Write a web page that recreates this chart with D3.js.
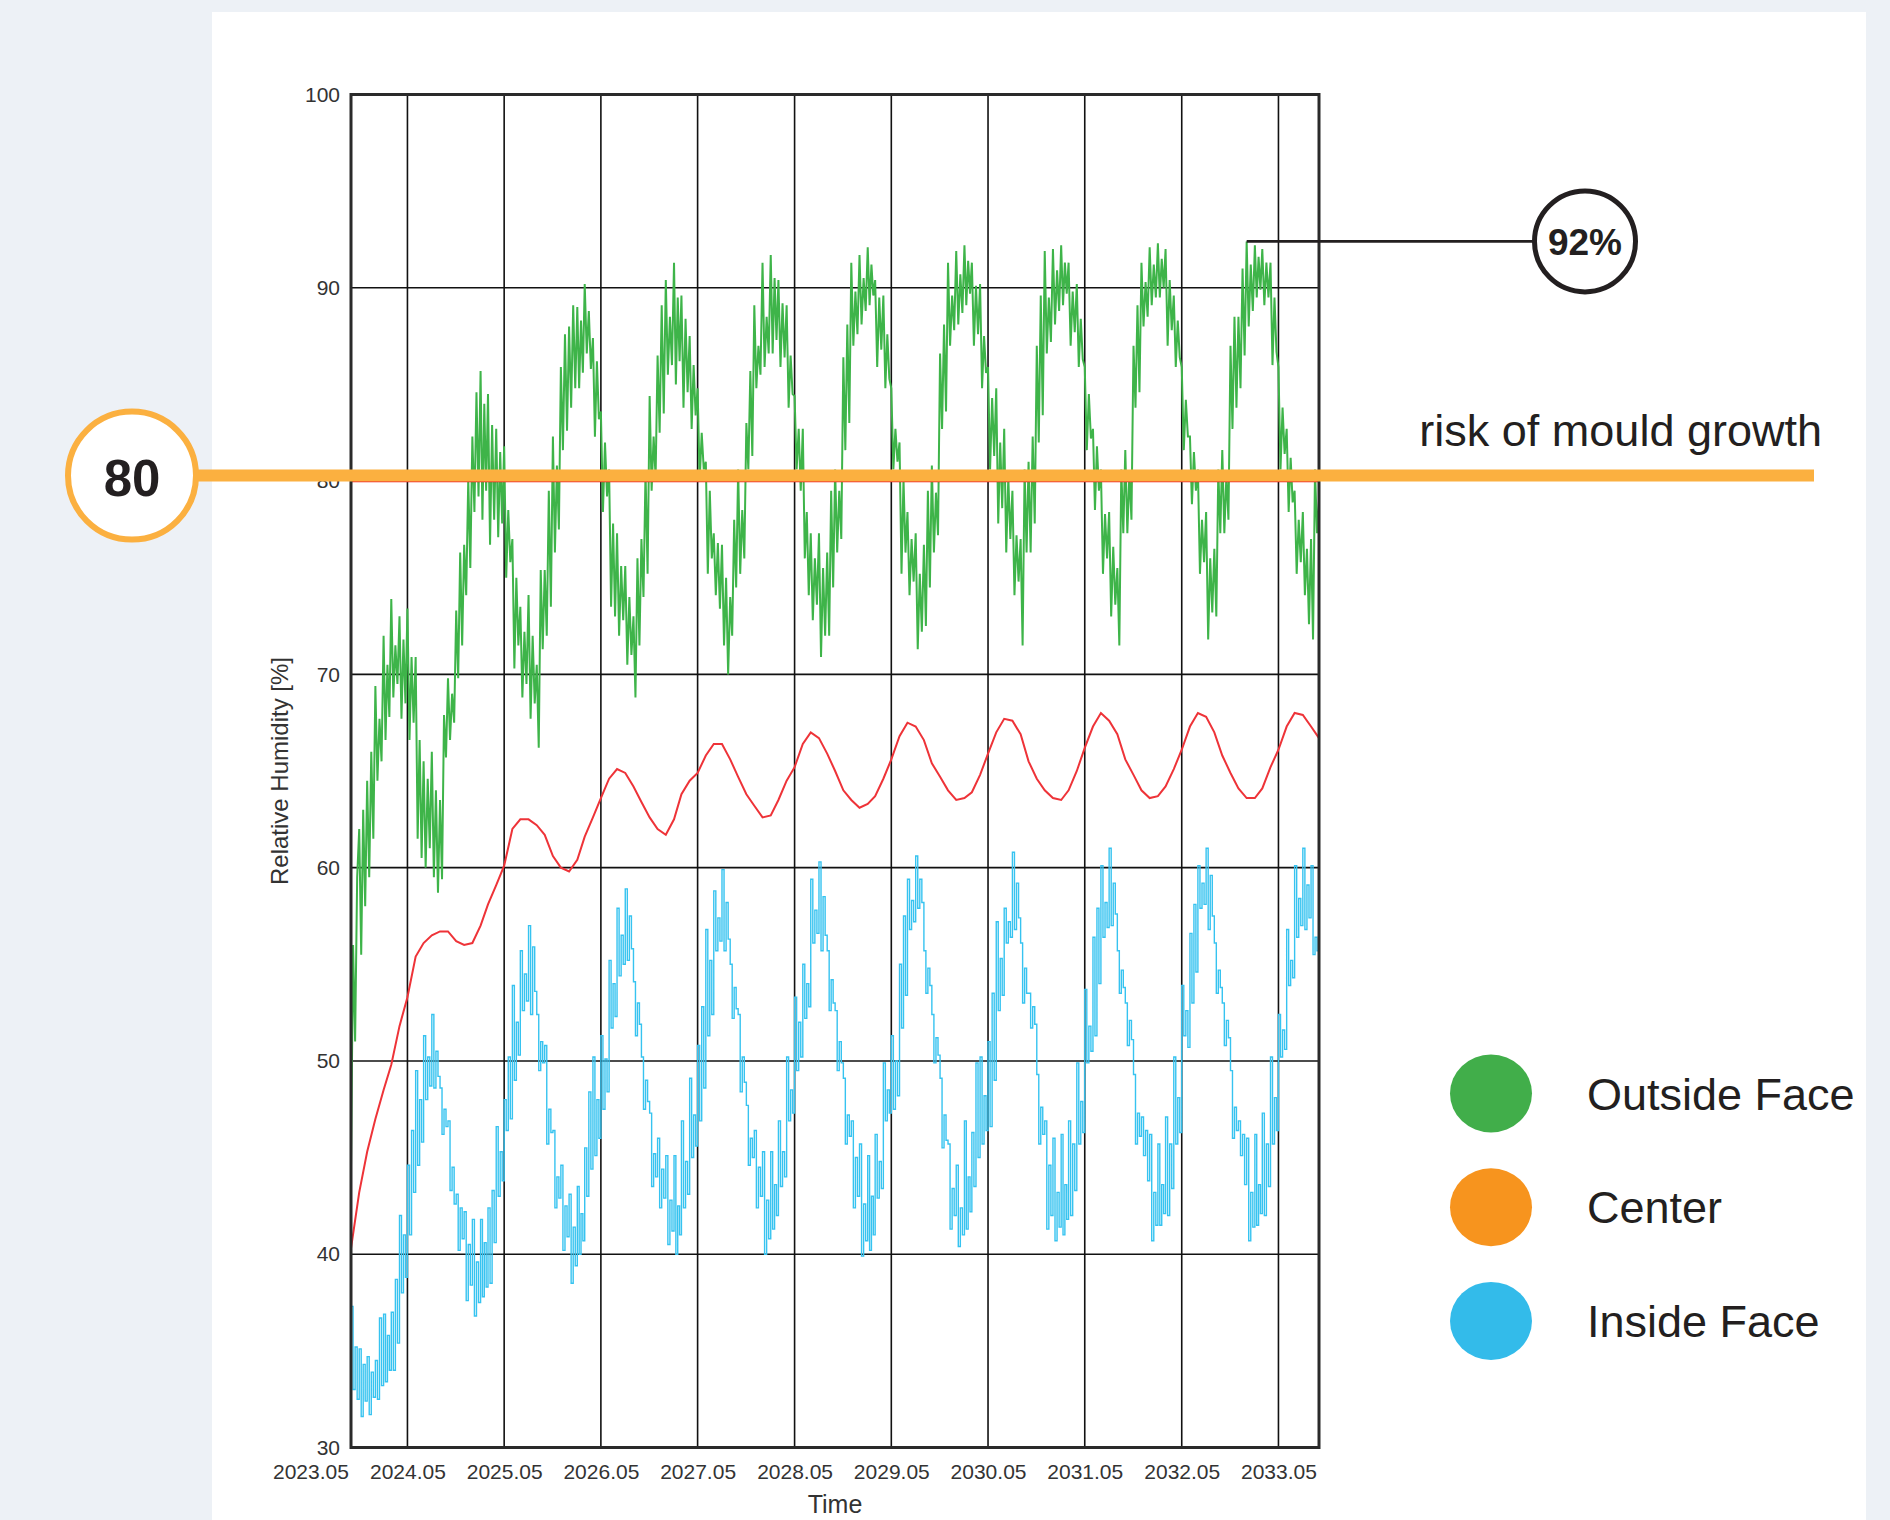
<!DOCTYPE html>
<html>
<head>
<meta charset="utf-8">
<script src="https://cdn.jsdelivr.net/npm/d3@7"></script>
<style>
  html, body { margin: 0; padding: 0; background: #edf1f6; }
  svg { display: block; }
  text { font-family: "Liberation Sans", Arial, Helvetica, sans-serif; }
</style>
</head>
<body>
<svg id="chart" width="1890" height="1520"></svg>
<script>
// ---- Data -------------------------------------------------------------
// Simulation period: 1 Oct 2023 to 1 Oct 2033.
const seriesStart = "2023-10-01";
const seriesEnd = "2033-10-01";

// Time axis labels (year.month) and relative humidity ticks [%]
const timeTickLabels = ["2023.05", "2024.05", "2025.05", "2026.05", "2027.05", "2028.05",
                        "2029.05", "2030.05", "2031.05", "2032.05", "2033.05"];
const humidityTicks = [30, 40, 50, 60, 70, 80, 90, 100];

// Critical relative humidity for mould growth [%]
const mouldThreshold = 80;

// Outside face RH [%], four readings per month (alternating highs and lows), three months per line
const outsideFace = [
  44.5, 56, 51, 59.5, 62, 55.5, 63, 58, 64.5, 59.5, 66, 61.5,
  69.4, 64.5, 67.7, 65.5, 72, 66.6, 70.5, 67.8, 73.9, 68.8, 71.5, 69.5,
  73, 67.7, 71.8, 68.5, 73.4, 66.6, 70.9, 67.5, 70.9, 61.5, 66.6, 60.5,
  65.5, 60, 64.6, 61, 66, 59.5, 64, 58.7, 63.5, 59.4, 67.9, 65.7,
  69.8, 66.6, 69, 67.5, 73.3, 69.8, 76.3, 71.5, 76.7, 74.1, 80.1, 75.5,
  82.3, 78.4, 84.6, 79.2, 85.7, 78, 84, 79.5, 84.5, 76.7, 82.9, 78,
  82.7, 77.1, 81.5, 77.8, 81.8, 75, 78.5, 75.8, 77, 70.3, 75, 71.5,
  73.5, 68.8, 72.2, 69.5, 74.1, 67.7, 72, 68.5, 70.5, 66.2, 75.4, 71.3,
  75.4, 72, 79.5, 73.5, 82.3, 76.3, 80.8, 77.5, 85.9, 81.6, 87.6, 82.6,
  88, 83.8, 89.1, 84.8, 89, 84.8, 88.3, 85.6, 90.2, 86.6, 88.8, 85.8,
  87.4, 82.3, 86.2, 83.2, 83.6, 78.4, 82, 79.2, 80.6, 73.5, 77.8, 73,
  77.3, 72, 75.6, 72.8, 75.6, 70.5, 74, 71, 73, 68.8, 76, 71.5,
  77, 74, 80.5, 75.2, 84.4, 79.5, 82.3, 80.2, 86.5, 82.5, 89.1, 83.5,
  90.4, 85.5, 88.5, 86, 91.3, 85, 89.5, 86.2, 89.6, 83.8, 88.4, 84.6,
  87.5, 82.7, 86, 83.4, 84.8, 80, 82.5, 80.6, 81, 75.2, 79.5, 76,
  77.3, 74.1, 76.8, 73.4, 76.7, 71.5, 75, 70, 74, 72, 78, 74.5,
  80.6, 75.2, 78.5, 76, 83, 80.6, 85.7, 81.3, 89.1, 84.8, 87, 85.5,
  91.3, 85.9, 88.5, 86.6, 91.7, 86.6, 90.5, 87.3, 90.4, 85.9, 89.2, 86.4,
  89.1, 83.8, 86.5, 84.5, 84.4, 80.6, 82.7, 79.5, 82.7, 76, 78.4, 74.1,
  77.3, 72.8, 76, 73.6, 77.3, 70.9, 75.5, 72, 76.3, 72, 79.5, 74.5,
  80.6, 76.3, 79.5, 77, 86.4, 81.6, 88.1, 83, 91.3, 87, 89.8, 87.6,
  91.7, 88.1, 90.5, 88.8, 92.1, 89.1, 91.2, 89.6, 90.4, 85.9, 89.5, 86.8,
  89.6, 84.8, 87.6, 85.3, 84.8, 80.6, 82.7, 81, 82, 75.2, 80.1, 76.3,
  78.4, 74.1, 77, 74.8, 77.3, 71.3, 75.2, 72.2, 76.7, 72.5, 79.5, 74.5,
  80.8, 76.3, 79.4, 77.2, 86.6, 82.7, 88.1, 83.6, 91.3, 87, 89.6, 87.8,
  91.9, 88.1, 90.7, 88.7, 92.2, 89.1, 91.4, 89.7, 91.3, 87, 90.1, 87.6,
  90.2, 84.8, 87.5, 85.6, 85.9, 80.6, 84.3, 81.3, 84.8, 77.8, 82, 78.6,
  82.7, 76.3, 80.2, 77, 79.5, 74.1, 77.2, 74.8, 77, 71.5, 80.6, 76.3,
  81, 76.3, 82.3, 77.8, 87, 82, 89.6, 83.4, 91.9, 86.6, 89.5, 87.2,
  92, 88.1, 90.9, 88.8, 92.2, 89.1, 91.3, 89.7, 91.3, 87, 89.8, 87.7,
  90.2, 85.9, 88.4, 86.3, 85.9, 81.6, 84.5, 82.2, 82.7, 78.5, 81.8, 79.5,
  80.6, 75.2, 78.3, 76, 78.4, 73, 76.6, 73.6, 75.5, 71.5, 80.6, 77.3,
  81.6, 77.3, 80.4, 78, 87, 83.8, 89.1, 84.6, 91.3, 88, 90.3, 88.5,
  92.1, 89.1, 91.2, 89.5, 92.3, 89.5, 91.5, 90, 92, 87, 90.4, 87.8,
  89.6, 85.9, 88.3, 86.4, 85.9, 81.6, 84.2, 82.3, 82.3, 78.8, 81.5, 79.5,
  80.6, 75.2, 78, 75.8, 78.4, 71.8, 76, 73.2, 76.5, 73, 80.6, 77.3,
  81.6, 77.3, 80.3, 78, 87, 82.7, 88.5, 83.8, 88.5, 84.8, 91, 86.5,
  92.4, 88, 91.2, 88.8, 92.2, 89.5, 91.6, 89.9, 92, 89.1, 91.3, 89.5,
  91.3, 86, 89.5, 86.7, 85.9, 80.6, 83.8, 81.4, 82.7, 78.4, 81.2, 78.9,
  79.5, 75.2, 78, 75.8, 78.4, 74.1, 76.5, 72.6, 77, 71.8, 80.6, 77.3,
  79
];

// Center of the wall RH [%], one reading per month
const center = [
  40.3, 43.2, 45.3, 47, 48.5, 49.8, 51.8, 53.3, 55.4, 56.1, 56.5, 56.7,
  56.7, 56.2, 56, 56.1, 57, 58.1, 59.1, 60.1, 62, 62.5, 62.5, 62.2,
  61.7, 60.6, 60, 59.8, 60.4, 61.6, 62.6, 63.6, 64.6, 65.1, 64.9, 64.2,
  63.4, 62.6, 62, 61.7, 62.5, 63.8, 64.5, 64.9, 65.8, 66.4, 66.4, 65.6,
  64.7, 63.8, 63.2, 62.6, 62.7, 63.5, 64.5, 65.2, 66.4, 67, 66.7, 65.9,
  65, 64, 63.5, 63.1, 63.3, 63.7, 64.6, 65.6, 66.8, 67.5, 67.3, 66.6,
  65.4, 64.7, 64, 63.5, 63.6, 63.9, 64.8, 65.9, 67, 67.7, 67.6, 66.9,
  65.5, 64.6, 64, 63.6, 63.5, 64, 65, 66.2, 67.3, 68, 67.6, 66.9,
  65.6, 64.8, 64, 63.6, 63.7, 64.2, 65.1, 66.1, 67.3, 68, 67.8, 67,
  65.8, 64.9, 64.1, 63.6, 63.6, 64.1, 65.2, 66.1, 67.3, 68, 67.9, 67.3,
  66.7
];

// Inside face RH [%], four readings per month (alternating highs and lows), three months per line
const insideFace = [
  37.3, 33, 35.2, 32.5, 35.1, 31.6, 34.3, 32.4, 34.7, 31.7, 33.9, 32.6,
  34.5, 32.5, 36.7, 33.2, 36.9, 33.4, 35.8, 34, 37, 34, 38.7, 35.4,
  42, 38, 41, 38.8, 44.6, 41, 46.4, 43.2, 49.5, 44.6, 48, 45.8,
  51.3, 48, 50.2, 48.7, 52.4, 48.6, 50.5, 49.2, 48.6, 46.2, 47.5, 46.6,
  46.9, 43.3, 44.5, 42.6, 43.1, 40.2, 42.4, 40.8, 42.2, 37.6, 40.5, 38.4,
  41.8, 36.8, 39.6, 37.5, 41.8, 37.8, 40.6, 38.3, 42.4, 38.5, 43.3, 40.6,
  46.6, 43, 45.3, 43.8, 48, 46.4, 50.2, 47, 53.9, 49, 52, 50.3,
  55.7, 52.6, 54.5, 53.1, 57, 52.4, 55.9, 53.6, 52.4, 49.5, 51, 49.9,
  50.8, 45.7, 47.5, 46.3, 46.4, 42.4, 44, 42.9, 44.6, 40.2, 42.5, 40.9,
  43.1, 38.5, 41.4, 39.4, 43.5, 40, 42.1, 40.7, 45.5, 43, 48.4, 44.4,
  50.2, 45.1, 48, 46, 51.3, 47.5, 50.1, 48.4, 55.2, 51.7, 54, 52.3,
  57.9, 54.4, 56.5, 55, 58.9, 55.2, 57.5, 55.8, 54.1, 51.3, 53, 51.9,
  50.2, 47.5, 49, 47.9, 47.3, 43.5, 45.2, 44, 46, 42.4, 44.4, 42.9,
  45.1, 40.5, 42.8, 41.2, 45.1, 40, 42.5, 41, 46.9, 42.4, 44.8, 43.1,
  49.1, 45, 47.2, 45.6, 50.8, 46.9, 52.8, 48.6, 56.8, 51.3, 55.2, 52.4,
  58.8, 55.7, 57.4, 56.2, 59.9, 55.7, 58.2, 56.3, 55, 52.2, 53.8, 52.7,
  52.4, 48.4, 50.2, 48.9, 47.7, 44.6, 46, 45, 46.4, 42.4, 44.5, 43,
  45.3, 40, 42.8, 40.8, 45.3, 41.3, 43.6, 42, 46.9, 43.5, 45.3, 44,
  50.2, 46.9, 48.5, 47.3, 53.3, 49.5, 52, 50.2, 55, 52.2, 54, 52.8,
  59.4, 56.1, 57.8, 56.6, 60.3, 55.7, 58.5, 56.5, 55.7, 52.6, 54.2, 53,
  52.6, 49.5, 51, 49.9, 49.1, 45.7, 47.2, 46.1, 46.9, 42.4, 45, 43,
  45.7, 39.9, 42.6, 40.7, 45.1, 40.2, 43, 41, 46.2, 42.9, 44.8, 43.4,
  49.9, 46.9, 48.5, 47.3, 51.3, 47.5, 50, 48.2, 55, 51.7, 57.5, 53.4,
  59.4, 56.8, 58.3, 57.2, 60.6, 57.9, 59.4, 58.2, 55.7, 53.5, 54.8, 53.9,
  52.4, 49.9, 51.2, 50.3, 49.1, 45.5, 47.2, 45.9, 45.7, 41.3, 43.4, 42,
  44.6, 40.4, 42.4, 41, 46.9, 41.3, 44, 42.2, 46.3, 43.5, 49.9, 45,
  50.2, 45.7, 48.2, 46.4, 51, 46.6, 53.5, 49, 57.2, 52.6, 55.3, 53.4,
  57.9, 56.1, 57.2, 56.4, 60.8, 56.8, 59.2, 57.4, 56.1, 53, 54.8, 53.5,
  53.5, 51.7, 52.8, 51.9, 49.3, 45.7, 47.6, 46.2, 46.9, 41.3, 44.6, 42,
  46, 40.7, 43.2, 41.4, 46.2, 41, 43.6, 41.8, 46.9, 42, 45.7, 43.3,
  49.9, 45.7, 47.9, 46.3, 53.7, 49.9, 51.8, 50.5, 56.4, 51.3, 57.9, 54,
  60.1, 56.4, 58.2, 56.9, 61, 57, 59.2, 57.6, 55.7, 53.5, 54.7, 53.8,
  53, 50.8, 52.1, 51.1, 49.3, 45.7, 47.3, 46.1, 47.1, 45.1, 46.4, 43.8,
  46.2, 40.7, 43.2, 41.5, 45.7, 41.5, 43.6, 42.1, 47.1, 42, 45.7, 43.4,
  50.2, 45.7, 48.1, 46.3, 53.9, 51.3, 52.6, 50.7, 56.6, 53, 58.1, 54.6,
  60.1, 57.9, 59.2, 58.1, 61, 56.8, 59.6, 57.5, 56.1, 53.5, 54.7, 53.8,
  53, 50.8, 52.1, 51.2, 49.5, 46, 47.6, 46.4, 46.9, 45.1, 46.2, 43.6,
  46, 40.7, 43.2, 41.4, 46.2, 41.5, 43.6, 42.1, 47.3, 42, 45.7, 43.5,
  50.2, 45.7, 48.1, 46.4, 52.4, 50.2, 51.6, 50.6, 56.8, 53.9, 55.2, 54.3,
  60.1, 56.4, 58.4, 57, 61, 56.8, 59.1, 57.4, 60.1, 55.5, 56.4, 55.7,
  55.8
];

const legendLabels = ["Outside Face", "Center", "Inside Face"];

// ---- Layout -----------------------------------------------------------
const svg = d3.select("#chart");
const plot = { left: 351, right: 1319, top: 94.5, bottom: 1447.5 };
const ink = "#231f20";

svg.append("rect")
  .attr("x", 212).attr("y", 12)
  .attr("width", 1654).attr("height", 1508)
  .attr("fill", "#ffffff");

const parseDay = d3.timeParse("%Y-%m-%d");
const parseTick = d3.timeParse("%Y.%m");
const t0 = parseDay(seriesStart);
const t1 = parseDay(seriesEnd);

const x = d3.scaleTime().domain([t0, t1]).range([plot.left, plot.right]);
const y = d3.scaleLinear().domain([30, 100]).range([plot.bottom, plot.top]);

// dates for the readings: four evenly spaced per month, or one per month
const dateQuarter = i => {
  const m0 = d3.timeMonth.offset(t0, Math.floor(i / 4));
  const m1 = d3.timeMonth.offset(m0, 1);
  return new Date(+m0 + (m1 - m0) * (i % 4) / 4);
};
const dateMonthly = i => d3.timeMonth.offset(t0, i);

const tickDates = timeTickLabels.map(parseTick);

// ---- Grid -------------------------------------------------------------
const grid = svg.append("g").attr("stroke", "#111").attr("stroke-width", 1.6);
grid.selectAll("line.h").data(humidityTicks).join("line")
  .attr("class", "h")
  .attr("x1", plot.left).attr("x2", plot.right)
  .attr("y1", d => y(d)).attr("y2", d => y(d));
grid.selectAll("line.v").data(tickDates.filter(d => d > t0 && d < t1)).join("line")
  .attr("class", "v")
  .attr("x1", d => x(d)).attr("x2", d => x(d))
  .attr("y1", plot.top).attr("y2", plot.bottom);

// ---- Axes -------------------------------------------------------------
const yAxis = svg.append("g")
  .attr("transform", `translate(${plot.left},0)`)
  .call(d3.axisLeft(y).tickValues(humidityTicks).tickSize(0).tickPadding(11).tickFormat(d3.format("d")));
yAxis.select(".domain").remove();
yAxis.selectAll("text").attr("font-size", 21).attr("fill", "#333");

const xAxis = svg.append("g")
  .attr("transform", `translate(0,${plot.bottom})`)
  .call(d3.axisBottom(x).tickValues(tickDates).tickSize(0).tickPadding(17).tickFormat(d3.timeFormat("%Y.%m")));
xAxis.select(".domain").remove();
xAxis.selectAll("text").attr("font-size", 21).attr("fill", "#333");

svg.append("text")
  .attr("transform", `translate(288,${(plot.top + plot.bottom) / 2}) rotate(-90)`)
  .attr("text-anchor", "middle")
  .attr("font-size", 24).attr("fill", "#333")
  .text("Relative Humidity [%]");

svg.append("text")
  .attr("x", (plot.left + plot.right) / 2).attr("y", 1513)
  .attr("text-anchor", "middle")
  .attr("font-size", 25).attr("fill", "#333")
  .text("Time");

// ---- Series -----------------------------------------------------------
svg.append("clipPath").attr("id", "plot-clip")
  .append("rect")
  .attr("x", plot.left).attr("y", plot.top)
  .attr("width", plot.right - plot.left).attr("height", plot.bottom - plot.top);

const series = svg.append("g").attr("clip-path", "url(#plot-clip)");

const zigLine = d3.line()
  .x((d, i) => x(dateQuarter(i)))
  .y(d => y(d));

const stepLine = d3.line()
  .x((d, i) => x(dateQuarter(i)))
  .y(d => y(d))
  .curve(d3.curveStepAfter);

const monthLine = d3.line()
  .x((d, i) => x(dateMonthly(i)))
  .y(d => y(d));

series.append("path").datum(outsideFace)
  .attr("d", zigLine)
  .attr("fill", "none").attr("stroke", "#3eb449").attr("stroke-width", 2)
  .attr("stroke-linejoin", "miter").attr("stroke-miterlimit", 2);

series.append("path").datum(insideFace)
  .attr("d", stepLine)
  .attr("fill", "none").attr("stroke", "#36c3f0").attr("stroke-width", 1.4);

series.append("path").datum(center)
  .attr("d", monthLine)
  .attr("fill", "none").attr("stroke", "#ee3338").attr("stroke-width", 2);

// threshold line inside the plot
series.append("line")
  .attr("x1", plot.left).attr("x2", plot.right)
  .attr("y1", y(mouldThreshold)).attr("y2", y(mouldThreshold))
  .attr("stroke", "#ed1c24").attr("stroke-width", 2.5);

// plot frame
svg.append("rect")
  .attr("x", plot.left).attr("y", plot.top)
  .attr("width", plot.right - plot.left).attr("height", plot.bottom - plot.top)
  .attr("fill", "none").attr("stroke", "#2a2a2a").attr("stroke-width", 3);

// ---- Mould growth marker ----------------------------------------------
const bandY = y(mouldThreshold) - 5.5;
const orange = "#fbb040";
svg.append("line")
  .attr("x1", 196).attr("x2", 1814)
  .attr("y1", bandY).attr("y2", bandY)
  .attr("stroke", orange).attr("stroke-width", 12);

svg.append("circle")
  .attr("cx", 132).attr("cy", bandY).attr("r", 64)
  .attr("fill", "#fff").attr("stroke", orange).attr("stroke-width", 6);
svg.append("text")
  .attr("x", 132).attr("y", bandY + 20)
  .attr("text-anchor", "middle")
  .attr("font-size", 51).attr("font-weight", "bold").attr("fill", ink)
  .text(d3.format("d")(mouldThreshold));

svg.append("text")
  .attr("x", 1822).attr("y", 446)
  .attr("text-anchor", "end")
  .attr("font-size", 45).attr("fill", ink)
  .text("risk of mould growth");

// ---- Peak annotation --------------------------------------------------
const peakIndex = d3.maxIndex(outsideFace);
const peakValue = outsideFace[peakIndex];
const peakX = x(dateQuarter(peakIndex));
const peakY = y(peakValue);
const calloutX = 1585;
svg.append("line")
  .attr("x1", peakX).attr("x2", calloutX - 52)
  .attr("y1", peakY).attr("y2", peakY)
  .attr("stroke", ink).attr("stroke-width", 2.7);
svg.append("circle")
  .attr("cx", calloutX).attr("cy", peakY).attr("r", 50.5)
  .attr("fill", "#fff").attr("stroke", ink).attr("stroke-width", 5);
svg.append("text")
  .attr("x", calloutX).attr("y", peakY + 13.5)
  .attr("text-anchor", "middle")
  .attr("font-size", 37).attr("font-weight", "bold").attr("fill", ink)
  .text(d3.format(".0f")(peakValue) + "%");

// ---- Legend -----------------------------------------------------------
const legendColors = ["#41ae4a", "#f7941e", "#33bbea"];
const legend = svg.append("g");
const rows = legend.selectAll("g").data(legendLabels).join("g")
  .attr("transform", (d, i) => `translate(1491,${1093.5 + i * 113.7})`);
rows.append("ellipse")
  .attr("rx", 41).attr("ry", 39)
  .attr("fill", (d, i) => legendColors[i]);
rows.append("text")
  .attr("x", 96).attr("y", 16)
  .attr("font-size", 45).attr("fill", ink)
  .text(d => d);
</script>
</body>
</html>
